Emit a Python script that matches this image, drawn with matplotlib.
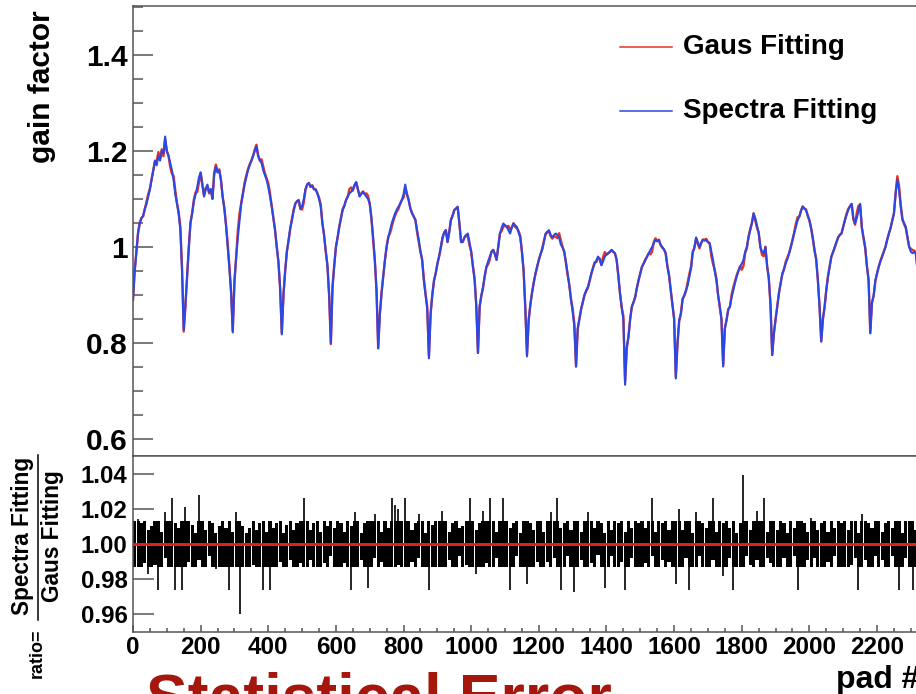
import numpy as np
import matplotlib
matplotlib.use('Agg')
import matplotlib.pyplot as plt
from matplotlib.lines import Line2D
from matplotlib.ticker import MultipleLocator, FormatStrFormatter

plt.rcParams['font.family'] = ['Liberation Sans', 'DejaVu Sans']
plt.rcParams['font.weight'] = 'bold'

# ---------------- data ----------------
pad_step = 5  # gain factor sampled every 5 pads
gain_spectra = [
    0.89, 0.95, 0.99, 1.03, 1.05, 1.06, 1.065, 1.08, 1.09, 1.105, 1.12, 1.14, 1.16, 1.18, 1.17, 1.19, 1.18, 1.2, 1.195, 1.23,
    1.2, 1.19, 1.175, 1.16, 1.14, 1.11, 1.09, 1.07, 1.035, 0.95, 0.827, 0.88, 0.94, 1.0, 1.05, 1.07, 1.095, 1.11, 1.125, 1.145,
    1.155, 1.13, 1.105, 1.12, 1.13, 1.115, 1.12, 1.1, 1.15, 1.167, 1.155, 1.16, 1.14, 1.105, 1.08, 1.045, 1.0, 0.955, 0.905, 0.822,
    0.93, 0.98, 1.02, 1.055, 1.09, 1.11, 1.13, 1.145, 1.16, 1.17, 1.18, 1.19, 1.2, 1.21, 1.19, 1.18, 1.175, 1.16, 1.15, 1.14,
    1.125, 1.105, 1.085, 1.06, 1.035, 1.0, 0.97, 0.915, 0.818, 0.9, 0.95, 0.99, 1.015, 1.04, 1.056, 1.075, 1.09, 1.095, 1.098, 1.08,
    1.085, 1.1, 1.12, 1.13, 1.133, 1.125, 1.128, 1.12, 1.12, 1.112, 1.1, 1.085, 1.05, 1.025, 0.99, 0.96, 0.9, 0.8, 0.917, 0.96,
    1.0, 1.02, 1.042, 1.06, 1.077, 1.085, 1.098, 1.105, 1.112, 1.115, 1.12, 1.13, 1.135, 1.12, 1.105, 1.11, 1.115, 1.11, 1.105, 1.1,
    1.09, 1.06, 1.02, 0.975, 0.91, 0.789, 0.86, 0.904, 0.94, 0.973, 1.0, 1.02, 1.035, 1.049, 1.06, 1.07, 1.078, 1.084, 1.09, 1.098,
    1.11, 1.13, 1.11, 1.098, 1.08, 1.07, 1.063, 1.056, 1.035, 1.015, 0.99, 0.973, 0.93, 0.9, 0.87, 0.768, 0.86, 0.9, 0.93, 0.945,
    0.965, 0.98, 1.0, 1.02, 1.03, 1.035, 1.01, 1.03, 1.056, 1.065, 1.077, 1.08, 1.084, 1.05, 1.01, 1.01, 1.02, 1.025, 1.028, 1.01,
    0.99, 0.96, 0.931, 0.876, 0.779, 0.876, 0.9, 0.917, 0.94, 0.959, 0.97, 0.98, 0.99, 0.994, 0.985, 0.973, 1.0, 1.028, 1.04, 1.049,
    1.045, 1.042, 1.035, 1.028, 1.04, 1.049, 1.045, 1.042, 1.03, 1.02, 0.99, 0.95, 0.87, 0.772, 0.848, 0.88, 0.904, 0.925, 0.945, 0.96,
    0.973, 0.985, 0.994, 1.01, 1.028, 1.032, 1.035, 1.025, 1.02, 1.025, 1.028, 1.025, 1.02, 1.005, 1.0, 0.99, 0.97, 0.945, 0.92, 0.89,
    0.865, 0.834, 0.751, 0.83, 0.85, 0.87, 0.885, 0.9, 0.91, 0.917, 0.93, 0.945, 0.955, 0.966, 0.972, 0.98, 0.975, 0.962, 0.97, 0.98,
    0.984, 0.987, 0.99, 0.994, 0.99, 0.987, 0.973, 0.94, 0.904, 0.875, 0.848, 0.713, 0.79, 0.813, 0.85, 0.876, 0.885, 0.896, 0.915, 0.931,
    0.945, 0.959, 0.965, 0.973, 0.98, 0.987, 0.994, 1.0, 1.008, 1.015, 1.012, 1.015, 1.005, 1.0, 0.995, 0.987, 0.96, 0.94, 0.91, 0.88,
    0.848, 0.726, 0.8, 0.848, 0.86, 0.89, 0.9, 0.91, 0.92, 0.938, 0.955, 0.987, 1.0, 1.02, 1.01, 1.0, 1.008, 1.015, 1.013, 1.015,
    1.01, 1.008, 0.99, 0.973, 0.95, 0.931, 0.9, 0.876, 0.848, 0.751, 0.83, 0.848, 0.87, 0.876, 0.895, 0.91, 0.925, 0.938, 0.95, 0.959,
    0.965, 0.973, 0.99, 1.0, 1.02, 1.035, 1.05, 1.07, 1.06, 1.045, 1.03, 1.0, 0.99, 0.987, 1.0, 0.96, 0.935, 0.88, 0.775, 0.82,
    0.848, 0.875, 0.904, 0.925, 0.945, 0.955, 0.966, 0.975, 0.987, 1.0, 1.015, 1.03, 1.042, 1.055, 1.063, 1.075, 1.084, 1.08, 1.077, 1.065,
    1.056, 1.04, 1.02, 0.995, 0.973, 0.93, 0.876, 0.803, 0.85, 0.876, 0.91, 0.938, 0.96, 0.98, 0.99, 1.0, 1.01, 1.02, 1.025, 1.028,
    1.042, 1.056, 1.067, 1.077, 1.085, 1.09, 1.06, 1.049, 1.06, 1.075, 1.09, 1.042, 1.02, 1.0, 0.96, 0.931, 0.82, 0.883, 0.9, 0.931,
    0.945, 0.959, 0.97, 0.98, 0.99, 1.0, 1.015, 1.028, 1.04, 1.056, 1.07, 1.112, 1.14, 1.12, 1.084, 1.056, 1.05, 1.042, 1.02, 1.0,
    0.99, 0.987, 0.99, 0.985, 0.95, 0.87, 0.81,
]

ratio_bin = 10  # ratio error bars grouped per 10 pads
# upper / lower end of the ratio error bar, in thousandths away from 1
ratio_hi = [
    13, 14, 12, 13, 8, 10, 13, 13, 7, 18,
    13, 26, 12, 9, 13, 21, 13, 11, 6, 28,
    13, 8, 13, 12, 6, 10, 13, 9, 13, 7,
    18, 13, 10, 6, 9, 13, 8, 12, 13, 7,
    13, 9, 12, 13, 6, 11, 13, 8, 12, 13,
    26, 13, 8, 12, 13, 7, 13, 10, 13, 9,
    13, 12, 7, 13, 10, 18, 13, 6, 12, 13,
    13, 17, 13, 7, 13, 9, 26, 22, 20, 13,
    26, 13, 8, 12, 17, 13, 6, 13, 11, 13,
    13, 19, 13, 7, 12, 13, 9, 10, 13, 26,
    13, 8, 12, 19, 13, 26, 13, 7, 13, 26,
    13, 9, 12, 13, 6, 13, 13, 12, 8, 13,
    13, 7, 13, 18, 13, 26, 9, 12, 13, 8,
    13, 13, 7, 13, 18, 13, 9, 13, 12, 6,
    13, 8, 13, 12, 13, 7, 13, 9, 13, 12,
    13, 9, 13, 26, 7, 13, 12, 13, 8, 13,
    13, 20, 8, 13, 13, 6, 18, 13, 12, 9,
    13, 26, 7, 13, 12, 13, 9, 13, 6, 12,
    39, 13, 8, 13, 19, 13, 26, 7, 13, 13,
    8, 13, 12, 6, 13, 9, 13, 13, 12, 7,
    15, 13, 8, 12, 13, 7, 13, 9, 13, 12,
    13, 8, 13, 13, 6, 17, 13, 12, 9, 13,
    13, 7, 12, 13, 9, 13, 13, 6, 13, 13,
    13, 8, 13, 13,
]
ratio_lo = [
    13, 13, 13, 11, 17, 13, 12, 26, 13, 8,
    13, 13, 26, 13, 26, 13, 10, 13, 13, 9,
    13, 13, 7, 13, 14, 13, 13, 13, 26, 13,
    13, 40, 13, 13, 13, 12, 13, 13, 26, 13,
    26, 13, 13, 10, 13, 13, 9, 13, 13, 11,
    13, 13, 9, 13, 13, 13, 11, 13, 7, 13,
    13, 13, 11, 13, 26, 13, 13, 9, 13, 25,
    13, 8, 13, 10, 13, 13, 13, 13, 12, 13,
    13, 13, 10, 13, 8, 13, 13, 26, 13, 13,
    13, 13, 13, 9, 13, 13, 7, 13, 12, 13,
    13, 17, 13, 13, 11, 13, 13, 8, 13, 13,
    13, 26, 13, 7, 13, 13, 23, 13, 13, 10,
    13, 13, 10, 13, 8, 13, 26, 13, 7, 13,
    27, 13, 9, 13, 13, 11, 13, 6, 13, 25,
    13, 7, 13, 13, 10, 26, 13, 8, 13, 13,
    13, 11, 13, 7, 13, 13, 9, 13, 10, 13,
    23, 13, 13, 8, 26, 13, 13, 7, 13, 13,
    13, 9, 13, 13, 18, 13, 8, 26, 13, 13,
    13, 7, 12, 13, 9, 13, 13, 8, 11, 13,
    13, 13, 8, 13, 13, 7, 26, 13, 13, 9,
    13, 8, 13, 13, 13, 10, 13, 7, 13, 13,
    13, 13, 12, 8, 26, 13, 9, 13, 13, 7,
    13, 9, 13, 13, 7, 13, 26, 13, 8, 13,
    26, 13, 9, 13,
]

series_labels = ['Gaus Fitting', 'Spectra Fitting']
series_colors = ['#e8321e', '#2a48e6']

# ---------------- derived arrays ----------------
pads = np.arange(len(gain_spectra)) * pad_step
spectra = np.array(gain_spectra)
hi = np.array(ratio_hi) / 1000.0
lo = np.array(ratio_lo) / 1000.0
ratio_mid = 1 + (hi - lo) / 2
bin_of_pad = np.minimum(pads // ratio_bin, len(ratio_mid) - 1)
gaus = spectra / ratio_mid[bin_of_pad]
bin_centers = np.arange(len(ratio_hi)) * ratio_bin + ratio_bin / 2

# ---------------- layout (pixel based) ----------------
W, H = 916, 694
fig = plt.figure(figsize=(W / 100, H / 100), dpi=100)
fig.patch.set_facecolor('white')

def fx(px):
    return px / W

def fy(py):
    return 1 - py / H

x0 = 133          # pixel of pad 0
px_per_pad = 0.3382
xmax = 2400       # axis runs past the right border (picture is cropped)
axw = xmax * px_per_pad

ax1 = fig.add_axes([fx(x0), fy(456), axw / W, (456 - 6) / H])
ax2 = fig.add_axes([fx(x0), fy(632), axw / W, (632 - 456) / H], sharex=ax1)

frame_col = '#555555'
for ax in (ax1, ax2):
    for s in ax.spines.values():
        s.set_color(frame_col)
        s.set_linewidth(1.1)

# top panel
ax1.plot(pads, gaus, color=series_colors[0], lw=1.7)
ax1.plot(pads, spectra, color=series_colors[1], lw=1.5)
ax1.set_xlim(0, xmax)
ax1.set_ylim(0.5646, 1.502)
ax1.yaxis.set_major_locator(MultipleLocator(0.2))
ax1.yaxis.set_minor_locator(MultipleLocator(0.05))
ax1.yaxis.set_major_formatter(FormatStrFormatter('%g'))
ax1.tick_params(axis='y', which='major', direction='in', length=14.5, width=1.1,
                color=frame_col, labelsize=21.5, pad=4)
ax1.tick_params(axis='y', which='minor', direction='in', length=7.2, width=1.1, color=frame_col)
ax1.tick_params(axis='x', which='both', bottom=False, labelbottom=False)

# ratio panel: dense core of each error bar, thin line for its full extent
band = 0.013
core_top = np.minimum(1 + hi, 1 + band)
core_bot = np.maximum(1 - lo, 1 - band)
ax2.bar(bin_centers, core_top - core_bot, bottom=core_bot, width=ratio_bin * 0.92,
        color='black', linewidth=0)
ax2.vlines(bin_centers, 1 - lo, 1 + hi, color='black', lw=1.2)
ax2.axhline(1.0, color='#e0201a', lw=2.2)
ax2.set_ylim(0.95, 1.05)
ax2.set_yticks([0.96, 0.98, 1.00, 1.02, 1.04])
ax2.yaxis.set_major_formatter(FormatStrFormatter('%.2f'))
ax2.xaxis.set_major_locator(MultipleLocator(200))
ax2.xaxis.set_minor_locator(MultipleLocator(50))
ax2.tick_params(axis='y', which='major', direction='in', length=15, width=1.1,
                color=frame_col, labelsize=17.3, pad=4)
ax2.tick_params(axis='x', which='major', direction='in', length=5, width=1.1,
                color=frame_col, labelsize=17.5, pad=3)
ax2.tick_params(axis='x', which='minor', direction='in', length=2.6, width=1.1, color=frame_col)

# legend (no frame, top right)
for i, (lab, col) in enumerate(zip(series_labels, series_colors)):
    yy = 47 + i * 64
    fig.add_artist(Line2D([fx(620), fx(672)], [fy(yy), fy(yy)], color=col, lw=1.1))
    fig.text(fx(683), fy(yy), lab, fontsize=20, ha='left', va='center')

# axis titles
fig.text(fx(42), fy(10), 'gain factor', rotation=90, fontsize=21.5, ha='center', va='top')
fig.text(fx(23), fy(536), 'Spectra Fitting', rotation=90, fontsize=16.3, ha='center', va='center')
fig.text(fx(52), fy(536), 'Gaus Fitting', rotation=90, fontsize=16.3, ha='center', va='center')
fig.add_artist(Line2D([fx(38), fx(38)], [fy(455), fy(620)], color='black', lw=1.1))
fig.text(fx(37), fy(653), 'ratio=', rotation=90, fontsize=13, ha='center', va='center')
fig.text(fx(836), fy(688), 'pad #', fontsize=23, ha='left', va='baseline')

# slide caption cut by the bottom border
fig.text(fx(146), fy(717), 'Statistical Error', fontsize=45, color='#a5170c',
         ha='left', va='baseline')

fig.savefig('out.png', dpi=100, facecolor='white')
